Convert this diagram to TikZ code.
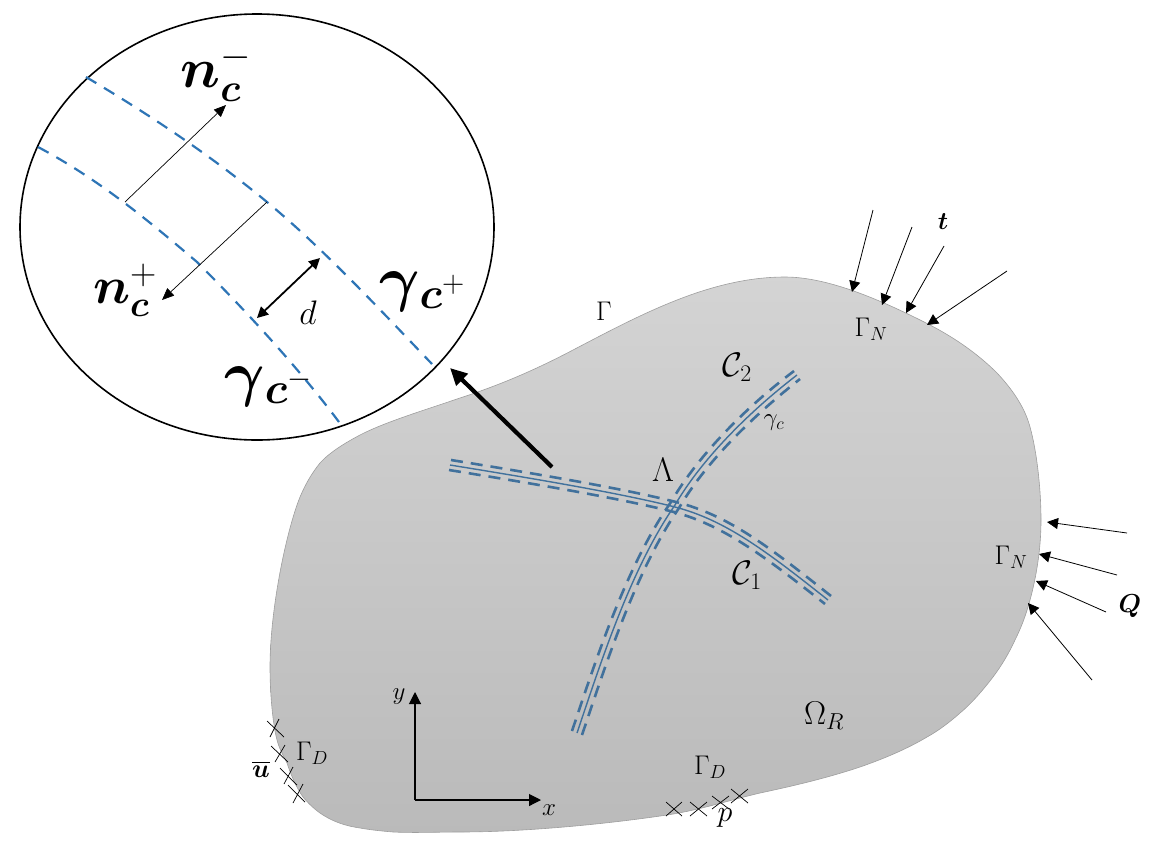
\RequirePackage{fix-cm}
\documentclass[tikz,border=0pt]{standalone}
\usepackage{amsmath}
\usepackage{bm}
\usetikzlibrary{arrows.meta}
\definecolor{zoomblue}{HTML}{2E75B6}
\definecolor{crackblue}{HTML}{41719C}
\newcommand{\fs}[1]{\fontsize{#1}{#1}\selectfont}
\newcommand{\gamsub}[2]{$\bm{\gamma}$\raisebox{-9pt}{\fs{#1}$\bm{c}^{#2}$}}
\tikzset{
  x=1pt,y=-1pt,
  lab/.style={inner sep=0pt,text=black,font=\fs{#1}},
  load/.style={-{Triangle[length=11pt,width=11pt]},line width=0.8pt},
  normalarrow/.style={-{Triangle[length=12pt,width=10pt]},line width=0.7pt},
  axisarrow/.style={-{Triangle[length=12pt,width=12pt]},line width=1.1pt},
  crossmark/.style={line width=0.7pt,black},
  crackcentre/.style={crackblue,line width=1.4pt},
  crackface/.style={crackblue,line width=2.6pt,dash pattern=on 12pt off 8pt},
  zoomface/.style={zoomblue,line width=2.2pt,dash pattern=on 12pt off 9pt},
}
\begin{document}
\begin{tikzpicture}
\useasboundingbox (0,0) rectangle (1150,841);
% body
\shade[top color=black!17,bottom color=black!27,draw=black!38,line width=0.6pt]
 (270,667) .. controls (270,610) and (286,532) .. (300,497)
 .. controls (306,483) and (312,473) .. (320,463)
 .. controls (330,452) and (345,443) .. (360,435)
 .. controls (385,422) and (425,410) .. (460,398)
 .. controls (500,385) and (535,370) .. (573,350)
 .. controls (640,315) and (710,277) .. (785,277)
 .. controls (830,277) and (885,302) .. (930,325)
 .. controls (955,338) and (978,354) .. (997,373)
 .. controls (1013,390) and (1025,408) .. (1030,427)
 .. controls (1037,452) and (1041,490) .. (1041,520)
 .. controls (1041,550) and (1036,578) .. (1030,600)
 .. controls (1026,615) and (1021,628) .. (1015,640)
 .. controls (1009,653) and (1002,665) .. (993,677)
 .. controls (983,690) and (972,703) .. (960,713)
 .. controls (950,722) and (938,731) .. (927,737)
 .. controls (907,749) and (883,759) .. (860,767)
 .. controls (827,778) and (793,786) .. (760,793)
 .. controls (730,800) and (700,810) .. (667,815)
 .. controls (600,825) and (520,832) .. (460,832)
 .. controls (437,832) and (415,833) .. (393,832)
 .. controls (382,831) and (371,830) .. (360,828)
 .. controls (346,826) and (334,822) .. (323,815)
 .. controls (315,810) and (308,803) .. (303,797)
 .. controls (296,787) and (291,775) .. (287,763)
 .. controls (283,755) and (279,748) .. (277,740)
 .. controls (273,725) and (270,695) .. (270,667) -- cycle;
% cracks
\draw[crackcentre] (450,465) .. controls (530,478) and (620,493) .. (675,507) .. controls (725,520) and (765,550) .. (828,600);
\draw[crackface] (451,460) .. controls (531,473) and (621,488) .. (676,502) .. controls (728,515) and (768,546) .. (831,596);
\draw[crackface] (449,470) .. controls (529,483) and (619,498) .. (674,512) .. controls (722,525) and (762,554) .. (825,604);
\draw[crackcentre] (577,733) .. controls (600,665) and (630,570) .. (675,505) .. controls (700,462) and (745,415) .. (797,375);
\draw[crackface] (572,731) .. controls (595,663) and (625,568) .. (671,502) .. controls (696,459) and (741,411) .. (794,371);
\draw[crackface] (582,735) .. controls (605,667) and (635,572) .. (679,508) .. controls (704,465) and (749,419) .. (800,379);
% zoom circle
\draw[black,line width=1.6pt,fill=white] (257,227) ellipse [x radius=237,y radius=213];
\draw[zoomface] (86,77) .. controls (150,115) and (210,155) .. (267,202) .. controls (325,250) and (385,315) .. (432,364);
\draw[zoomface] (38,147) .. controls (100,180) and (150,222) .. (197,262) .. controls (250,315) and (300,370) .. (339,422);
% connector end points
\coordinate (na) at (125,202); \coordinate (nb) at (226,105);
\coordinate (pa) at (267,202); \coordinate (pb) at (162,300);
\coordinate (da) at (257,318); \coordinate (db) at (320,258);
\coordinate (za) at (552,467); \coordinate (zb) at (450,368);
\draw[normalarrow] (na) -- (nb);
\draw[normalarrow] (pa) -- (pb);
\draw[{Triangle[length=11pt,width=11pt]}-{Triangle[length=11pt,width=11pt]},line width=1.8pt] (da) -- (db);
\draw[-{Triangle[length=17pt,width=16pt]},line width=4.2pt] (za) -- (zb);
% loads t
\coordinate (t1a) at (873,210); \coordinate (t1b) at (852,292);
\coordinate (t2a) at (912,227); \coordinate (t2b) at (882,305);
\coordinate (t3a) at (944,246); \coordinate (t3b) at (906,313);
\coordinate (t4a) at (1007,271); \coordinate (t4b) at (927,325);
\draw[load] (t1a) -- (t1b);
\draw[load] (t2a) -- (t2b);
\draw[load] (t3a) -- (t3b);
\draw[load] (t4a) -- (t4b);
% loads Q
\coordinate (q1a) at (1127,533); \coordinate (q1b) at (1047,522);
\coordinate (q2a) at (1117,575); \coordinate (q2b) at (1039,554);
\coordinate (q3a) at (1106,612); \coordinate (q3b) at (1036,581);
\coordinate (q4a) at (1092,680); \coordinate (q4b) at (1028,603);
\draw[load] (q1a) -- (q1b);
\draw[load] (q2a) -- (q2b);
\draw[load] (q3a) -- (q3b);
\draw[load] (q4a) -- (q4b);
% axes
\coordinate (o) at (415,800); \coordinate (ex) at (541,800); \coordinate (ey) at (415,692);
\draw[axisarrow] (o) -- (ex);
\draw[axisarrow] (o) -- (ey);
% crosses
\draw[crossmark] (267,721)--(284,737) (279,719)--(270,737);
\draw[crossmark] (271,746)--(288,762) (285,745)--(275,762);
\draw[crossmark] (280,768)--(297,785) (293,767)--(284,784);
\draw[crossmark] (288,785)--(305,802) (303,784)--(293,803);
\draw[crossmark] (666,802)--(682,816) (682,802)--(666,816);
\draw[crossmark] (690,802)--(707,816) (707,802)--(690,816);
\draw[crossmark] (712,796)--(729,809) (729,796)--(712,809);
\draw[crossmark] (731,789)--(748,803) (748,789)--(731,803);
% labels
\node[lab=56] (nminus) at (216,73) {$\bm{n}_{\bm{c}}^{-}$};
\node[lab=52] (nplus) at (125,290) {$\bm{n}_{\bm{c}}^{+}$};
\node[lab=62] (gplus) at (422,292) {\gamsub{44}{+}};
\node[lab=62] (gminus) at (268,387) {\gamsub{44}{-}};
\node[lab=34] (dlab) at (308,313) {$d$};
\node[lab=27] (gam) at (604,311) {$\Gamma$};
\node[lab=27] (gn1) at (871,329) {$\Gamma_{N}$};
\node[lab=27] (gn2) at (1011,557) {$\Gamma_{N}$};
\node[lab=27] (gd1) at (312,753) {$\Gamma_{D}$};
\node[lab=27] (gd2) at (710,767) {$\Gamma_{D}$};
\node[lab=33] (om) at (824,716) {$\Omega_{R}$};
\node[lab=34] (lam) at (663,470) {$\Lambda$};
\node[lab=34] (c1) at (747,575) {$\mathcal{C}_{1}$};
\node[lab=34] (c2) at (737,367) {$\mathcal{C}_{2}$};
\node[lab=25] (gc) at (774,423) {$\gamma_{c}$};
\node[lab=25] (tl) at (943,222) {$\bm{t}$};
\node[lab=26] (ql) at (1130,606) {$\bm{Q}$};
\node[lab=26] (ul) at (261,769) {$\overline{\bm{u}}$};
\node[lab=25] (xl) at (549,810) {$x$};
\node[lab=25] (yl) at (399,697) {$y$};
\node[lab=30] (pl) at (725,818) {$p$};
\end{tikzpicture}
\end{document}
